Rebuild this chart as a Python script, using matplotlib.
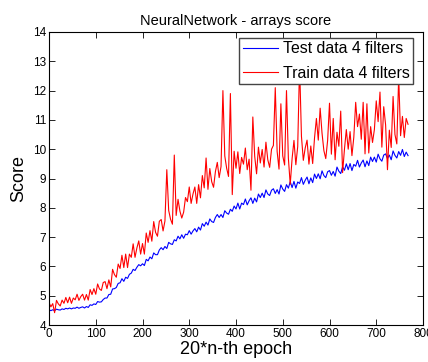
import matplotlib
matplotlib.use("Agg")
import matplotlib.pyplot as plt

plt.rcParams['font.family'] = ['Liberation Sans', 'DejaVu Sans']

epochs = list(range(0, 772, 4))

train_scores = [
    4.77, 4.62, 4.73, 4.42, 4.84, 4.72, 4.65, 4.85, 4.74, 4.94,
    4.76, 4.95, 4.74, 4.92, 4.86, 5.05, 4.84, 4.97, 5.05, 4.85,
    5.04, 4.85, 5.21, 5.04, 5.24, 5.05, 5.40, 5.23, 5.18, 5.45,
    5.48, 5.24, 5.54, 5.30, 5.90, 5.72, 5.63, 6.08, 5.93, 6.38,
    5.96, 6.42, 5.96, 6.42, 6.31, 6.77, 6.31, 6.63, 6.87, 6.42,
    6.78, 6.42, 7.14, 6.82, 7.22, 6.86, 7.53, 7.16, 7.03, 7.54,
    7.60, 7.21, 7.55, 9.30, 7.91, 7.61, 7.44, 9.80, 7.74, 8.29,
    7.89, 7.65, 7.85, 8.35, 8.21, 8.71, 8.15, 8.47, 8.71, 8.15,
    8.79, 8.34, 9.10, 8.68, 9.70, 8.63, 9.34, 8.89, 8.70, 9.24,
    9.55, 9.03, 9.41, 12.00, 9.77, 9.35, 9.07, 11.90, 8.45, 9.93,
    9.35, 9.91, 9.17, 9.72, 9.49, 10.04, 9.30, 9.66, 8.60, 11.10,
    9.76, 9.16, 10.07, 9.53, 9.99, 9.39, 10.24, 9.64, 9.38, 10.00,
    10.13, 12.10, 9.92, 9.32, 11.55, 9.77, 9.46, 12.00, 9.70, 8.80,
    9.68, 10.30, 9.47, 10.09, 12.90, 10.44, 9.62, 10.04, 10.31, 9.49,
    10.11, 9.51, 10.39, 11.05, 10.31, 11.40, 10.55, 9.95, 9.68, 10.30,
    11.57, 9.83, 11.05, 9.64, 10.58, 10.10, 11.30, 9.20, 10.00, 10.67,
    10.00, 10.60, 9.78, 10.41, 11.60, 10.77, 11.20, 10.34, 11.60, 9.84,
    11.55, 9.87, 10.77, 10.23, 10.67, 11.65, 10.94, 11.95, 10.07, 11.45,
    10.83, 9.30, 10.65, 10.06, 11.80, 10.50, 10.18, 12.50, 10.46, 11.12,
    10.40, 11.05, 10.85,
]

test_scores = [
    4.52, 4.49, 4.52, 4.49, 4.54, 4.52, 4.51, 4.55, 4.53, 4.57,
    4.55, 4.58, 4.55, 4.58, 4.57, 4.61, 4.57, 4.60, 4.62, 4.58,
    4.63, 4.60, 4.69, 4.67, 4.72, 4.70, 4.80, 4.78, 4.79, 4.87,
    4.92, 4.92, 5.04, 5.05, 5.23, 5.24, 5.28, 5.42, 5.44, 5.58,
    5.49, 5.63, 5.59, 5.73, 5.77, 5.90, 5.86, 5.97, 6.06, 6.02,
    6.09, 6.03, 6.24, 6.19, 6.32, 6.26, 6.46, 6.40, 6.40, 6.56,
    6.64, 6.57, 6.68, 6.61, 6.82, 6.77, 6.75, 6.91, 6.87, 7.03,
    6.94, 7.08, 6.96, 7.10, 7.08, 7.22, 7.10, 7.21, 7.29, 7.18,
    7.34, 7.24, 7.46, 7.37, 7.51, 7.41, 7.62, 7.53, 7.50, 7.67,
    7.77, 7.67, 7.77, 7.67, 7.90, 7.82, 7.78, 7.95, 7.88, 8.06,
    7.96, 8.16, 7.96, 8.16, 8.11, 8.30, 8.10, 8.24, 8.34, 8.15,
    8.33, 8.20, 8.47, 8.35, 8.50, 8.35, 8.61, 8.47, 8.42, 8.60,
    8.65, 8.49, 8.62, 8.47, 8.78, 8.64, 8.56, 8.79, 8.67, 8.89,
    8.69, 8.90, 8.67, 8.88, 8.83, 9.03, 8.80, 8.94, 9.05, 8.82,
    9.02, 8.86, 9.15, 9.00, 9.16, 8.99, 9.26, 9.10, 9.03, 9.23,
    9.27, 9.11, 9.24, 9.08, 9.39, 9.25, 9.17, 9.40, 9.28, 9.50,
    9.30, 9.51, 9.27, 9.48, 9.42, 9.62, 9.39, 9.53, 9.63, 9.40,
    9.60, 9.44, 9.73, 9.58, 9.73, 9.56, 9.83, 9.67, 9.59, 9.80,
    9.84, 9.68, 9.80, 9.64, 9.94, 9.79, 9.70, 9.92, 9.79, 9.99,
    9.75, 9.90, 9.78,
]

x_ticks = [0, 100, 200, 300, 400, 500, 600, 700, 800]
y_ticks = [4, 5, 6, 7, 8, 9, 10, 11, 12, 13, 14]

fig = plt.figure(figsize=(4.28, 3.62), dpi=100)
ax = fig.add_axes([49/428, 1 - 325/362, 374/428, 293/362])

ax.plot(epochs, test_scores, color=(0, 0, 1), lw=0.8, label='Test data 4 filters')
ax.plot(epochs, train_scores, color=(1, 0, 0), lw=0.8, label='Train data 4 filters')

ax.set_xlim(0, 800)
ax.set_ylim(4, 14)
ax.set_xticks(x_ticks)
ax.set_yticks(y_ticks)
ax.tick_params(direction='in', length=4, width=0.6, top=True, right=True,
               labelsize=8.5, pad=2)
for s in ax.spines.values():
    s.set_linewidth(0.8)

ax.set_title('NeuralNetwork - arrays score', fontsize=10.5, pad=5)
ax.set_xlabel('20*n-th epoch', fontsize=13, labelpad=1)
ax.set_ylabel('Score', fontsize=13, labelpad=4)

leg = ax.legend(loc='upper right', bbox_to_anchor=(0.973, 0.98), borderaxespad=0,
                fontsize=11.4, handlelength=2.2, handletextpad=0.3, borderpad=0.22,
                labelspacing=0.6, fancybox=False, framealpha=1, edgecolor='#444444')
leg.get_frame().set_linewidth(1.0)

fig.savefig('out.png', dpi=100)
